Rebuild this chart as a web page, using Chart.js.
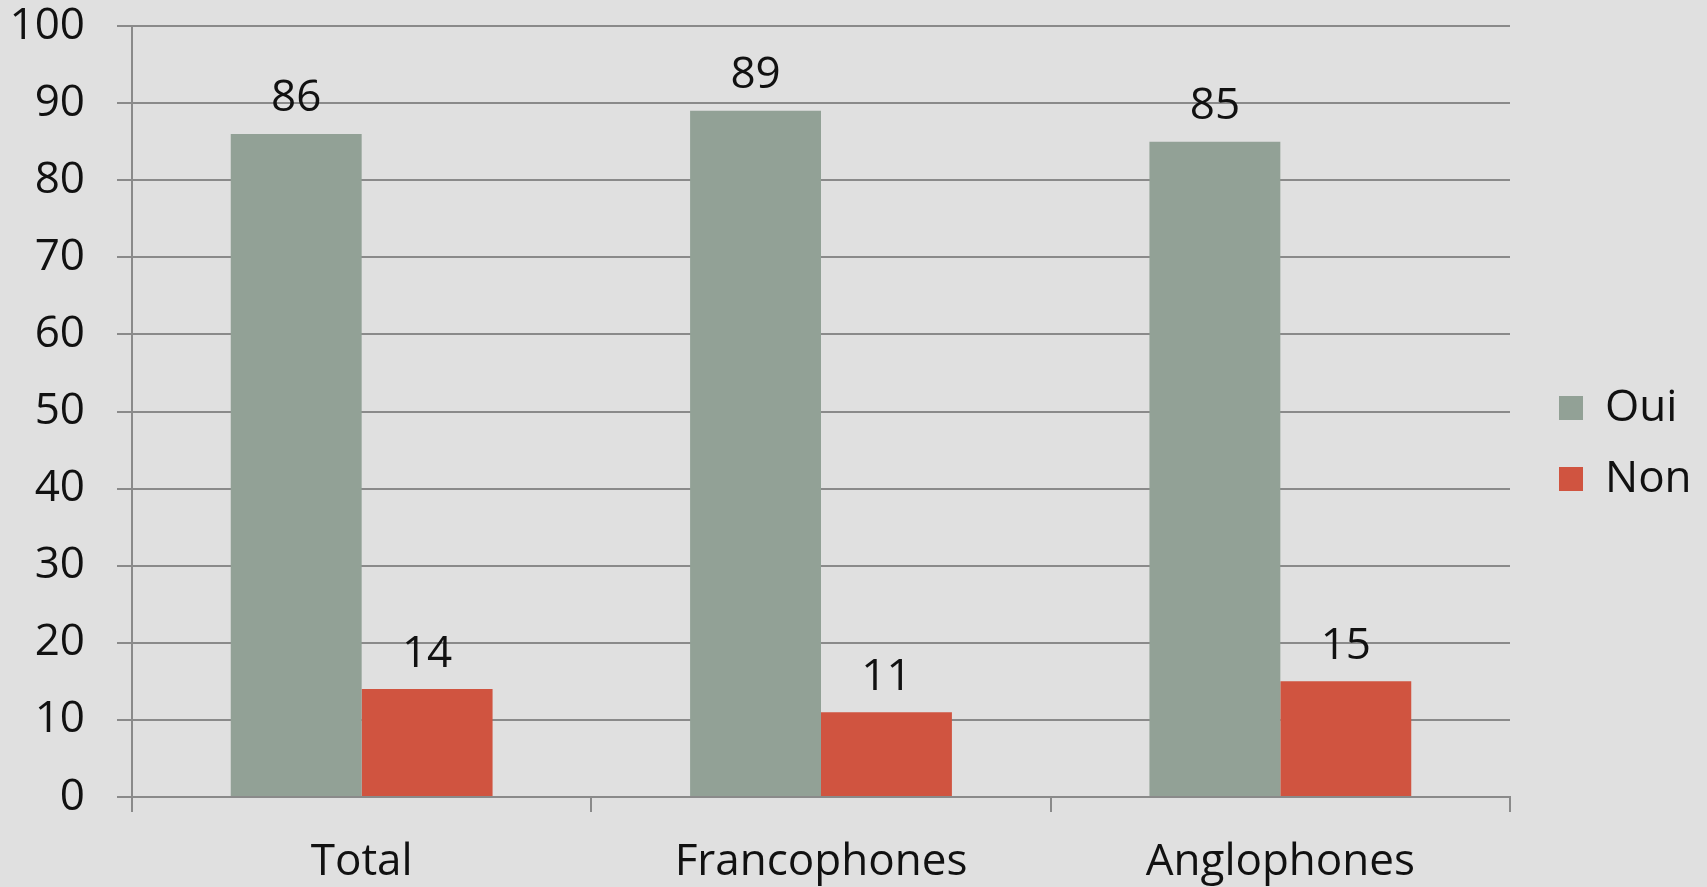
<!DOCTYPE html>
<html>
<head>
<meta charset="utf-8">
<script src="https://cdn.jsdelivr.net/npm/chart.js@4"></script>
<style>
  html, body { margin: 0; padding: 0; background: #e0e0e0; }
  #wrap { width: 1707px; height: 887px; }
</style>
</head>
<body>
<div id="wrap"><canvas id="surveyChart"></canvas></div>
<script>
const categories = ["Total", "Francophones", "Anglophones"];
const ouiValues = [86, 89, 85];
const nonValues = [14, 11, 15];
const yTicks = [0, 10, 20, 30, 40, 50, 60, 70, 80, 90, 100];

const FONT = "'Open Sans', 'Lato', sans-serif";
const GRID = "#8a8a8a";

// value labels above each bar
const valueLabels = {
    id: "valueLabels",
    afterDatasetsDraw(chart) {
        const ctx = chart.ctx;
        ctx.save();
        ctx.font = "44px " + FONT;
        ctx.fillStyle = "#111";
        ctx.textAlign = "center";
        ctx.textBaseline = "middle";
        chart.data.datasets.forEach((ds, i) => {
            chart.getDatasetMeta(i).data.forEach((bar, j) => {
                ctx.fillText(ds.data[j], bar.x, bar.y - 35);
            });
        });
        ctx.restore();
    }
};

// give the legend a fixed column on the right, with the boxes set in a bit
const legendColumn = {
    id: "legendColumn",
    afterInit(chart) {
        const legend = chart.legend;
        if (!legend || legend._patched) return;
        const fit = legend.fit;
        legend.fit = function () {
            fit.call(this);
            this.width = 197;
        };
        legend._patched = true;
    },
    afterLayout(chart) {
        if (chart.legend) {
            chart.legend.left += 22;
            chart.legend.adjustHitBoxes();
        }
    }
};

const ctx = document.getElementById("surveyChart").getContext("2d");

new Chart(ctx, {
    type: "bar",
    data: {
        labels: categories,
        datasets: [
            {
                label: "Oui",
                data: ouiValues,
                backgroundColor: "#92a196",
                categoryPercentage: 0.57,
                barPercentage: 1
            },
            {
                label: "Non",
                data: nonValues,
                backgroundColor: "#d05440",
                categoryPercentage: 0.57,
                barPercentage: 1
            }
        ]
    },
    options: {
        responsive: true,
        maintainAspectRatio: false,
        devicePixelRatio: 1,
        animation: false,
        layout: {
            padding: 0
        },
        plugins: {
            legend: {
                position: "right",
                labels: {
                    boxWidth: 24,
                    boxHeight: 24,
                    padding: 27,
                    color: "#111",
                    font: { family: FONT, size: 44 }
                }
            },
            tooltip: { enabled: false }
        },
        scales: {
            x: {
                grid: {
                    offset: true,
                    drawOnChartArea: false,
                    drawTicks: true,
                    tickLength: 15,
                    color: GRID,
                    lineWidth: 2
                },
                border: { color: GRID, width: 2 },
                ticks: {
                    color: "#111",
                    padding: 24,
                    font: { family: FONT, size: 44 }
                },
                afterFit(scale) {
                    scale.height = 90;
                }
            },
            y: {
                min: 0,
                max: 100,
                afterBuildTicks(scale) {
                    scale.ticks = yTicks.map(v => ({ value: v }));
                },
                grid: {
                    color: GRID,
                    lineWidth: 2,
                    tickLength: 15
                },
                border: { color: GRID, width: 2 },
                ticks: {
                    color: "#111",
                    padding: 32,
                    font: { family: FONT, size: 44 }
                },
                afterFit(scale) {
                    scale.width = 132;
                    scale.paddingTop = 26;
                    scale.paddingBottom = 0;
                }
            }
        }
    },
    plugins: [legendColumn, valueLabels]
});
</script>
</body>
</html>
